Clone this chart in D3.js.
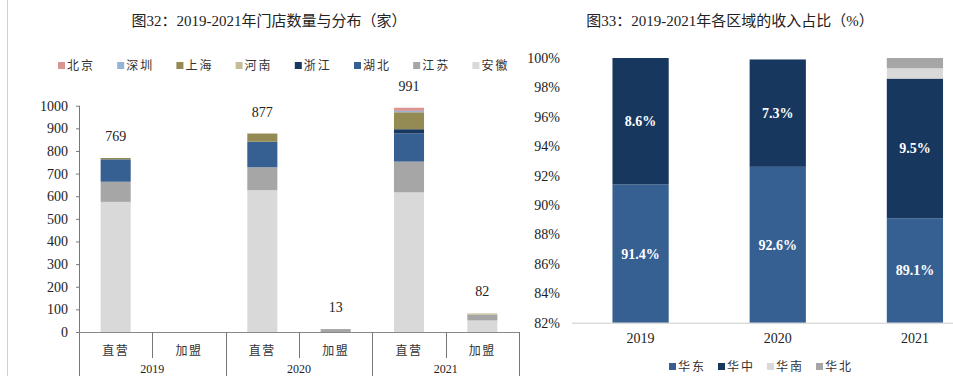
<!DOCTYPE html>
<html><head><meta charset="utf-8">
<script src="https://cdn.jsdelivr.net/npm/d3@7"></script>
<style>
body{margin:0;background:#fff;}
svg{display:block;font-family:"Liberation Serif","Noto Sans CJK SC",serif;}
</style></head>
<body>
<svg id="c" width="953" height="376"></svg>
<script>
// ---------- Left chart data ----------
const leftTitle = "图32：2019-2021年门店数量与分布（家）";
const years = ["2019", "2020", "2021"];
const storeTypes = ["直营", "加盟"];
const regions = ["北京", "深圳", "上海", "河南", "浙江", "湖北", "江苏", "安徽"];
const regionColors = ["#d99594", "#95b3d7", "#948a54", "#c4bd97", "#17375e", "#376092", "#a6a6a6", "#d9d9d9"];
// values per category (2019直营, 2019加盟, 2020直营, 2020加盟, 2021直营, 2021加盟), in region order
const v北京 = [0, 0, 0, 0, 14, 0];
const v深圳 = [0, 0, 0, 0, 6, 0];
const v上海 = [6, 0, 36, 0, 75, 0];
const v河南 = [0, 0, 0, 0, 0, 6];
const v浙江 = [0, 0, 0, 0, 18, 0];
const v湖北 = [99, 0, 113, 0, 125, 0];
const v江苏 = [89, 0, 101, 13, 136, 25];
const v安徽 = [575, 0, 627, 0, 617, 51];
const storeTotals = [769, null, 877, 13, 991, 82];
const leftTicks = [0, 100, 200, 300, 400, 500, 600, 700, 800, 900, 1000];

// ---------- Right chart data ----------
const rightTitle = "图33：2019-2021年各区域的收入占比（%）";
const rYears = ["2019", "2020", "2021"];
const rSeries = ["华东", "华中", "华南", "华北"];
const rColors = ["#376092", "#17375e", "#d9d9d9", "#a6a6a6"];
const r华东 = [91.4, 92.6, 89.1];
const r华中 = [8.6, 7.3, 9.5];
const r华南 = [0, 0, 0.7];
const r华北 = [0, 0, 0.7];
const rightTicks = [82, 84, 86, 88, 90, 92, 94, 96, 98, 100];

const svg = d3.select("#c");
const CJK = '"Liberation Serif","Noto Sans CJK SC",serif';

// left border line
svg.append("line").attr("x1", 7.5).attr("x2", 7.5).attr("y1", 0).attr("y2", 376)
  .attr("stroke", "#d0d0d0").attr("stroke-width", 1);

// ================= LEFT CHART =================
const cats = [];
years.forEach(y => storeTypes.forEach(t => cats.push(y + "|" + t)));
const regionVals = [v北京, v深圳, v上海, v河南, v浙江, v湖北, v江苏, v安徽];
const leftRows = cats.map((c, i) => {
  const o = {cat: c};
  regions.forEach((r, j) => o[r] = regionVals[j][i]);
  return o;
});
const xL = d3.scaleBand().domain(cats).range([79, 519]).paddingInner(0.59).paddingOuter(0.295);
const yL = d3.scaleLinear().domain([0, 1000]).range([332, 105.7]);
const stackOrder = regions.slice().reverse(); // 安徽 at bottom
const stackL = d3.stack().keys(stackOrder)(leftRows);
const colorL = d3.scaleOrdinal().domain(regions).range(regionColors);

svg.append("text").attr("x", 269).attr("y", 26).attr("text-anchor", "middle")
  .attr("font-size", 15).attr("fill", "#222").text(leftTitle);

// legend
const legL = svg.append("g");
regions.forEach((r, i) => {
  const x0 = 58 + i * 59.2;
  legL.append("rect").attr("x", x0).attr("y", 62).attr("width", 7).attr("height", 7).attr("fill", regionColors[i]);
  legL.append("text").attr("x", x0 + 9).attr("y", 70).attr("font-size", 12).attr("letter-spacing", 2)
    .attr("fill", "#333").text(r);
});

// bars
svg.append("g").selectAll("g").data(stackL).join("g").attr("fill", d => colorL(d.key))
  .selectAll("rect").data(d => d).join("rect")
  .attr("x", d => xL(d.data.cat)).attr("width", xL.bandwidth())
  .attr("y", d => yL(d[1])).attr("height", d => yL(d[0]) - yL(d[1]));

// totals
svg.append("g").selectAll("text").data(cats.map((c, i) => ({cat: c, t: storeTotals[i]})).filter(d => d.t != null))
  .join("text").attr("x", d => xL(d.cat) + xL.bandwidth() / 2).attr("y", d => yL(d.t) - 17)
  .attr("text-anchor", "middle").attr("font-size", 14).attr("fill", "#222").text(d => d.t);

// y axis
const axL = d3.axisLeft(yL).tickValues(leftTicks).tickSize(3).tickPadding(8).tickFormat(d3.format("d"));
const gL = svg.append("g").attr("transform", "translate(79,0)").call(axL);
gL.select(".domain").remove();
gL.selectAll(".tick line").attr("stroke", "#777");
gL.selectAll("text").attr("font-family", CJK).attr("font-size", 14).attr("fill", "#222");
svg.append("line").attr("x1", 79.5).attr("x2", 79.5).attr("y1", 105.7).attr("y2", 376).attr("stroke", "#777");
// x axis baseline
svg.append("line").attr("x1", 79).attr("x2", 519.5).attr("y1", 332.5).attr("y2", 332.5).attr("stroke", "#888");
// category separators
const step = xL.step();
cats.forEach((c, i) => {
  const xs = Math.round(xL(c) - xL.paddingInner() * step / 2 + step) + 0.5;
  const isYear = (i % 2 === 1);
  svg.append("line").attr("x1", xs).attr("x2", xs).attr("y1", 332).attr("y2", isYear ? 376 : 358).attr("stroke", "#777");
  svg.append("text").attr("x", xL(c) + xL.bandwidth() / 2).attr("y", 355).attr("text-anchor", "middle")
    .attr("font-size", 12).attr("letter-spacing", 1.5).attr("fill", "#333").text(c.split("|")[1]);
});
years.forEach(y => {
  const cx = (xL(y + "|直营") + xL(y + "|加盟") + xL.bandwidth()) / 2;
  svg.append("text").attr("x", cx).attr("y", 373).attr("text-anchor", "middle")
    .attr("font-size", 12).attr("fill", "#222").text(y);
});

// ================= RIGHT CHART =================
svg.append("text").attr("x", 730).attr("y", 26).attr("text-anchor", "middle")
  .attr("font-size", 15).attr("fill", "#222").text(rightTitle);

const rVals = [r华东, r华中, r华南, r华北];
const rightRows = rYears.map((y, i) => {
  const o = {year: y};
  rSeries.forEach((s, j) => o[s] = rVals[j][i]);
  return o;
});
const xR = d3.scaleBand().domain(rYears).range([572, 983.5]).paddingInner(0.59).paddingOuter(0.295);
const yR = d3.scaleLinear().domain([82, 100]).range([322.7, 58]);
const colorR = d3.scaleOrdinal().domain(rSeries).range(rColors);
const stackR = d3.stack().keys(rSeries)(rightRows);

const clipId = "clipR";
svg.append("clipPath").attr("id", clipId).append("rect").attr("x", 560).attr("y", 0).attr("width", 400).attr("height", 322.7);
const gBars = svg.append("g").attr("clip-path", `url(#${clipId})`);
gBars.selectAll("g").data(stackR).join("g").attr("fill", d => colorR(d.key))
  .selectAll("rect").data(d => d).join("rect")
  .attr("x", d => xR(d.data.year)).attr("width", xR.bandwidth())
  .attr("y", d => yR(d[1])).attr("height", d => Math.max(0, yR(d[0]) - yR(d[1])));

// value labels (華東, 華中)
[0, 1].forEach(si => {
  stackR[si].forEach(d => {
    const lo = Math.max(d[0], 82), hi = d[1];
    svg.append("text").attr("x", xR(d.data.year) + xR.bandwidth() / 2).attr("y", yR((lo + hi) / 2) + 5)
      .attr("text-anchor", "middle").attr("font-size", 14).attr("font-weight", "bold").attr("fill", "#fff")
      .text(d.data[rSeries[si]].toFixed(1) + "%");
  });
});

const axR = d3.axisLeft(yR).tickValues(rightTicks).tickSize(0).tickPadding(12).tickFormat(d => d + "%");
const gR = svg.append("g").attr("transform", "translate(572,0)").call(axR);
gR.select(".domain").remove();
gR.selectAll("text").attr("font-family", CJK).attr("font-size", 14).attr("fill", "#222");
svg.append("line").attr("x1", 572).attr("x2", 953).attr("y1", 323.2).attr("y2", 323.2).attr("stroke", "#ccc");
const axRx = d3.axisBottom(xR).tickSize(0).tickPadding(10);
const gRx = svg.append("g").attr("transform", "translate(0,323)").call(axRx);
gRx.select(".domain").remove();
gRx.selectAll("text").attr("font-family", CJK).attr("font-size", 14).attr("fill", "#222");

const legR = svg.append("g");
rSeries.forEach((s, i) => {
  const x0 = 669 + i * 49;
  legR.append("rect").attr("x", x0).attr("y", 363).attr("width", 7).attr("height", 7).attr("fill", rColors[i]);
  legR.append("text").attr("x", x0 + 9).attr("y", 371).attr("font-size", 12).attr("letter-spacing", 2)
    .attr("fill", "#333").text(s);
});
</script>
</body></html>
